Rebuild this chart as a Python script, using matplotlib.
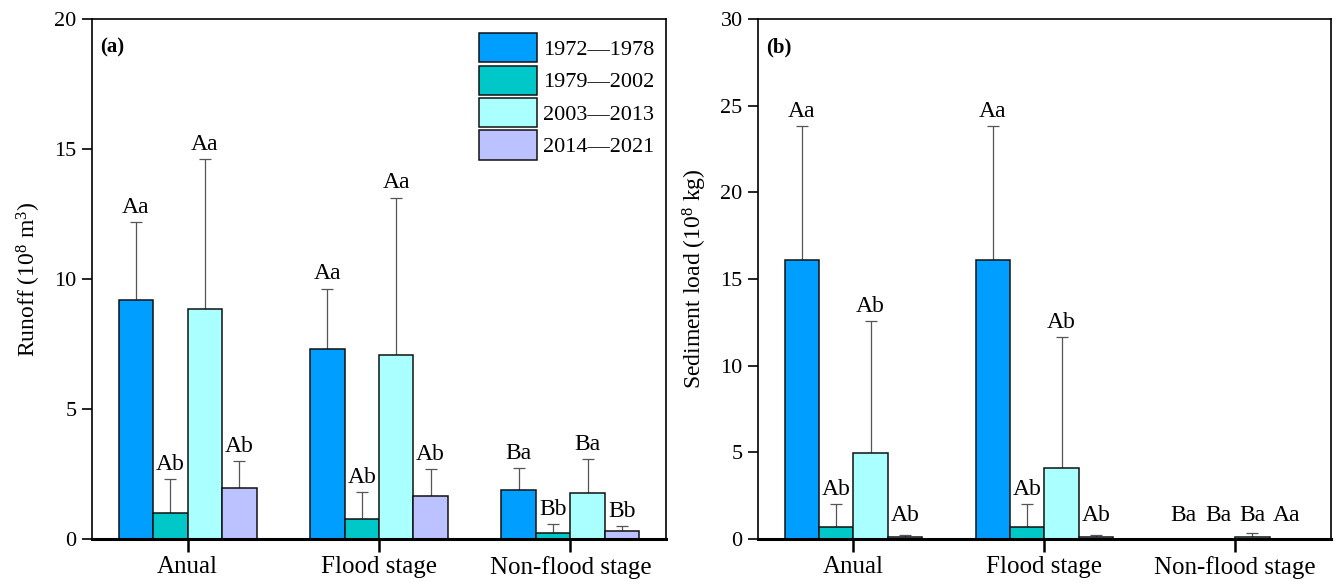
import numpy as np
import matplotlib
matplotlib.use('Agg')
import matplotlib.pyplot as plt

plt.rcParams['font.family'] = ['Liberation Serif', 'DejaVu Serif']
plt.rcParams['mathtext.fontset'] = 'custom'
plt.rcParams['mathtext.rm'] = 'Liberation Serif'
plt.rcParams['mathtext.it'] = 'Liberation Serif:italic'

# Datos
categorias = ['Anual', 'Flood stage', 'Non-flood stage']
periodos = ['1972\u20141978', '1979\u20142002', '2003\u20142013', '2014\u20142021']
colores = ['#009FFF', '#00C8C8', '#AAFFFF', '#BBC2FF']

# Runoff (10^8 m^3): media y media+desv (tope de la barra de error)
runoff = [[9.20, 7.32, 1.90],
          [1.00, 0.78, 0.23],
          [8.85, 7.08, 1.76],
          [1.96, 1.64, 0.32]]
runoff_top = [[12.18, 9.63, 2.72],
              [2.31, 1.82, 0.56],
              [14.61, 13.13, 3.08],
              [2.99, 2.69, 0.50]]
runoff_letras = [['Aa', 'Aa', 'Ba'],
                 ['Ab', 'Ab', 'Bb'],
                 ['Aa', 'Aa', 'Ba'],
                 ['Ab', 'Ab', 'Bb']]

# Sediment load (10^8 kg)
sed = [[16.10, 16.10, 0.02],
       [0.67, 0.67, 0.01],
       [4.96, 4.10, 0.10],
       [0.12, 0.10, 0.01]]
sed_top = [[23.83, 23.83, 0.02],
           [2.00, 2.00, 0.01],
           [12.56, 11.67, 0.35],
           [0.25, 0.25, 0.01]]
sed_letras = [['Aa', 'Aa', 'Ba'],
              ['Ab', 'Ab', 'Ba'],
              ['Ab', 'Ab', 'Ba'],
              ['Ab', 'Ab', 'Aa']]

fs = 16
ancho = 0.18
x = np.arange(len(categorias))

fig = plt.figure(figsize=(13.35, 5.82), dpi=100)
ax1 = fig.add_axes([0.0689, 0.0739, 0.430, 0.8935])
ax2 = fig.add_axes([0.5678, 0.0739, 0.429, 0.8935])


def panel(ax, valores, topes, letras, ymax, ylabel, tag, min_txt):
    for i in range(len(periodos)):
        pos = x + (i - 1.5) * ancho
        v = np.array(valores[i])
        err = np.array(topes[i]) - v
        ax.bar(pos, v, ancho, color=colores[i], edgecolor='#111111', linewidth=1.1,
               label=periodos[i], zorder=2)
        ax.errorbar(pos, v, yerr=[np.zeros_like(err), err], fmt='none',
                    ecolor='#555555', elinewidth=0.9, capsize=4, capthick=0.9, zorder=1)
        for p, t, l in zip(pos, topes[i], letras[i]):
            ax.annotate(l, (p, max(t, min_txt)), xytext=(0, 3), textcoords='offset points',
                        ha='center', va='bottom', fontsize=17)
    ax.set_xlim(-0.5, 2.5)
    ax.set_ylim(0, ymax)
    ax.set_yticks(np.arange(0, ymax + 1, 5))
    ax.set_xticks(x)
    ax.set_xticklabels(categorias)
    ax.tick_params(axis='y', direction='out', length=7, width=1.2, labelsize=fs, pad=4)
    ax.tick_params(axis='x', direction='out', length=9, width=1.8, labelsize=18, pad=3)
    for s in ['top', 'right', 'left']:
        ax.spines[s].set_linewidth(1.2)
    ax.spines['bottom'].set_linewidth(2.2)
    ax.set_ylabel(ylabel, fontsize=17, labelpad=8)
    ax.text(0.015, 0.965, tag, transform=ax.transAxes, fontsize=15, fontweight='bold',
            ha='left', va='top')


panel(ax1, runoff, runoff_top, runoff_letras, 20, 'Runoff (10$^{8}$ m$^{3}$)', '(a)', 0.5)
panel(ax2, sed, sed_top, sed_letras, 30, 'Sediment load (10$^{8}$ kg)', '(b)', 0.5)

ax1.legend(loc='upper left', bbox_to_anchor=(0.655, 0.994), frameon=False, fontsize=fs,
           handlelength=2.6, handleheight=1.65, labelspacing=0.14, handletextpad=0.27,
           borderpad=0)

plt.savefig('out.png', dpi=100)
